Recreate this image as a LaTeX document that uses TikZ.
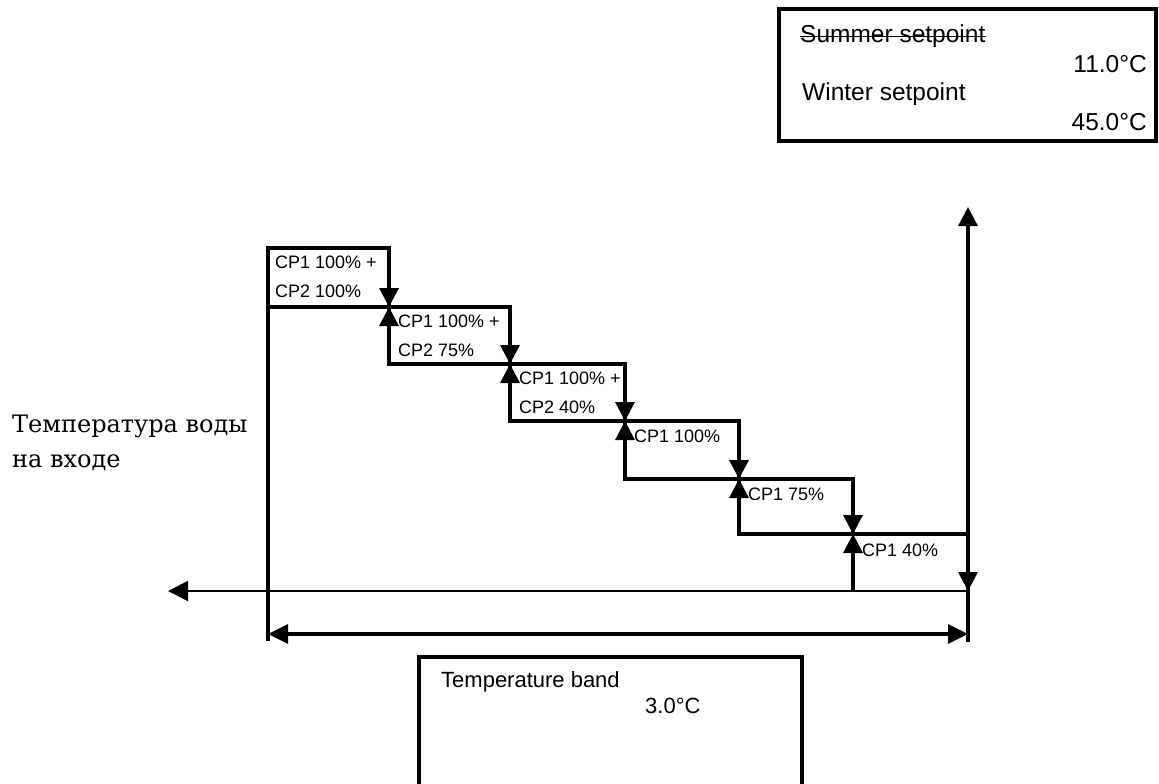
\documentclass[tikz,border=0pt]{standalone}
\usepackage{fontspec}
\setmainfont{Liberation Sans}
\newfontfamily\rufont{DejaVu Serif}
\usetikzlibrary{arrows.meta,positioning}

\begin{document}
\begin{tikzpicture}[x=1pt, y=-1pt,
    stair/.style={line width=3.2pt, line cap=rect},
    tip/.style={-{Triangle[width=19pt, length=19pt]}, line width=3.2pt},
    dtip/.style={{Triangle[width=19pt, length=20pt]}-{Triangle[width=19pt, length=20pt]}, line width=3.2pt},
    axis/.style={-{Triangle[width=20pt, length=20pt]}, line width=2pt},
    frame/.style={draw, line width=3.4pt, inner sep=0pt},
    lbl/.style={anchor=base west, inner sep=0pt, align=left, font=\fontsize{18}{29}\selectfont},
    big/.style={inner sep=0pt, font=\fontsize{24.5}{28}\selectfont},
    mid/.style={inner sep=0pt, anchor=base west, font=\fontsize{22}{26}\selectfont},
]
\useasboundingbox (0,0) rectangle (1159,784);

% Step corners
\coordinate (t1) at (268,248);
\coordinate (t2) at (389,307);
\coordinate (t3) at (510,364);
\coordinate (t4) at (625,421);
\coordinate (t5) at (739,479);
\coordinate (t6) at (853,534);
\coordinate (t7) at (968,591);
\coordinate (top) at (968,207);
\coordinate (ax) at (168,591);
\coordinate (e1) at (268,639);
\coordinate (e2) at (968,640);
\coordinate (b1) at (268,634);
\coordinate (b2) at (968,634);

% Steps
\draw[stair] (t1) rectangle (t2);
\draw[stair] (t2) rectangle (t3);
\draw[stair] (t3) rectangle (t4);
\draw[stair] (t4) rectangle (t5);
\draw[stair] (t5) rectangle (t6);
\draw[stair] (t6) -- (t6 -| t7);
\draw[stair] (t1) -- (e1);
\draw[stair] (t7) -- (e2);

% Step arrows
\draw[tip] (t1 -| t2) -- (t2); \draw[tip] (t3 -| t2) -- (t2);
\draw[tip] (t2 -| t3) -- (t3); \draw[tip] (t4 -| t3) -- (t3);
\draw[tip] (t3 -| t4) -- (t4); \draw[tip] (t5 -| t4) -- (t4);
\draw[tip] (t4 -| t5) -- (t5); \draw[tip] (t6 -| t5) -- (t5);
\draw[tip] (t5 -| t6) -- (t6); \draw[tip] (t7 -| t6) -- (t6);
\draw[tip] (t6 -| t7) -- (t7);
\draw[tip] (t7) -- (top);

% Axis and band
\draw[axis] (t7) -- (ax);
\draw[dtip] (b1) -- (b2);

% Step labels (base = last line)
\node[lbl] (s1) at ([shift={(7,49)}]t1) {CP1 100\% +\\CP2 100\%};
\node[lbl] (s2) at ([shift={(9,49)}]t2) {CP1 100\% +\\CP2 75\%};
\node[lbl] (s3) at ([shift={(9,49)}]t3) {CP1 100\% +\\CP2 40\%};
\node[lbl] (s4) at ([shift={(9,21)}]t4) {CP1 100\%};
\node[lbl] (s5) at ([shift={(9,21)}]t5) {CP1 75\%};
\node[lbl] (s6) at ([shift={(9,22)}]t6) {CP1 40\%};

% Setpoints
\node[frame, minimum width=377pt, minimum height=132pt] (setbox) at (967.5,75) {};
\node[big, anchor=base west] (summer) at (800,43) {Summer setpoint};
\draw[line width=1.5pt] (summer.west) -- (summer.east);
\node[big, anchor=base east] (sumval) at (1147,73) {11.0°C};
\node[big, anchor=base west] (winter) at (802,100) {Winter setpoint};
\node[big, anchor=base east] (winval) at (1147,130) {45.0°C};

% Temperature band
\coordinate (k1) at (419,784);
\coordinate (k2) at (802,657);
\draw[line width=3.4pt] (k1) |- (k2) -- (k2 |- k1);
\node[mid] (band) at (441,687) {Temperature band};
\node[mid] (bandval) at (645,713) {3.0°C};

% Water inlet label
\node[inner sep=0pt, anchor=base west, align=left, font=\rufont\fontsize{24}{35}\selectfont] (inlet) at (12,467) {Температура воды\\на входе};
\end{tikzpicture}
\end{document}
